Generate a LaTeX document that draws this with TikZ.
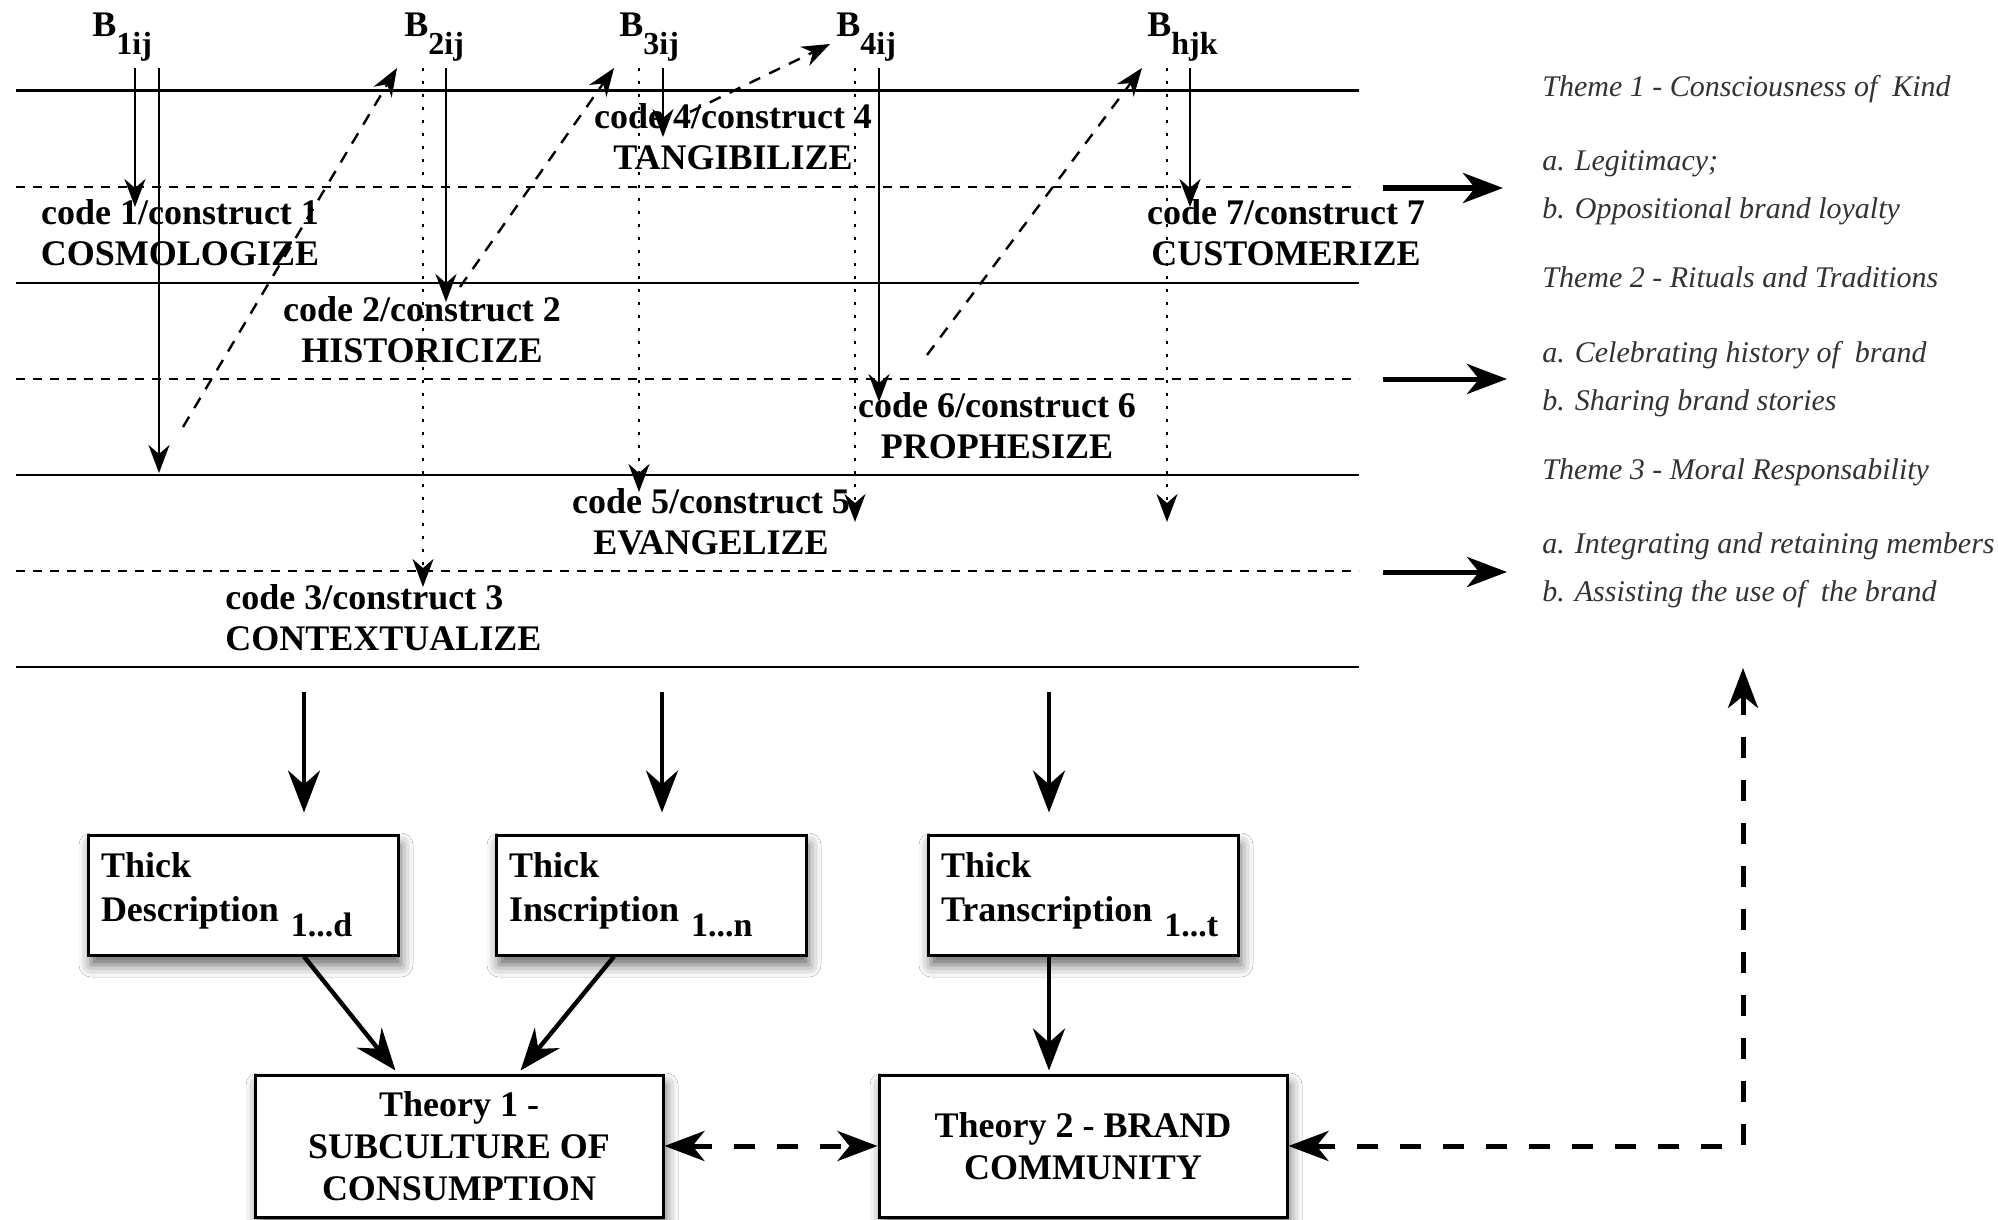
\documentclass[tikz,border=0pt]{standalone}
\usepackage{fontspec}
\setmainfont{Liberation Serif}
\usetikzlibrary{arrows.meta,calc,shadows.blur}

\tikzset{
  rule/.style={line width=1.4pt},
  dashrule/.style={line width=1.4pt, dash pattern=on 4.5pt off 4pt},
  thinhead/.style={-{Stealth[length=14pt,width=10.5pt,inset=4.5pt]}},
  thinarr/.style={line width=1.1pt, thinhead},
  dotarr/.style={line width=1.3pt, dash pattern=on 1.3pt off 5.2pt, thinhead},
  diagarr/.style={line width=1.2pt, dash pattern=on 6pt off 5pt, thinhead},
  bigarr/.style={line width=2.2pt, -{Stealth[length=21pt,width=16pt,inset=7pt]}},
  sidearr/.style={line width=2.5pt, -{Stealth[length=20pt,width=15pt,inset=6pt]}},
  dasharr/.style={line width=2.5pt, dash pattern=on 10.5pt off 11pt,
    {Stealth[length=20pt,width=15pt,inset=6pt]}-{Stealth[length=20pt,width=15pt,inset=6pt]}},
  codelab/.style={font=\fontsize{18}{20.5}\selectfont\bfseries, align=center, inner sep=0pt},
  blab/.style={font=\fontsize{18}{20}\selectfont\bfseries, inner sep=0pt, anchor=base west},
  theme/.style={font=\fontsize{15}{18}\selectfont\itshape, text=black!80, anchor=west,
    inner sep=0pt, text height=10.5pt, text depth=3.75pt},
  boxshadow/.style={blur shadow={shadow xshift=1.5pt, shadow yshift=-5pt,
    shadow blur radius=6pt, shadow opacity=60}},
  thickbox/.style={draw, line width=1.5pt, fill=white, minimum width=155pt, minimum height=60pt,
    text width=142pt, align=left, inner xsep=6.5pt,
    font=\fontsize{18}{22}\selectfont\bfseries, boxshadow},
  theorybox/.style={draw, line width=1.5pt, fill=white, minimum width=204pt, minimum height=71pt,
    align=center, font=\fontsize{18}{21}\selectfont\bfseries, boxshadow}
}
\newcommand{\bsub}[1]{\raisebox{-9pt}{\fontsize{16}{16}\selectfont #1}}
\newcommand{\tsub}[1]{\raisebox{-7.5pt}{\fontsize{17}{17}\selectfont #1}}

\begin{document}
\begin{tikzpicture}[x=0.5pt,y=-0.5pt]
\useasboundingbox (0,0) rectangle (1998,1220);
\fill[white] (0,0) rectangle (1998,1220);

% horizontal rules
\draw[rule] (16,90.5) -- (1359,90.5);
\draw[dashrule] (16,187) -- (1359,187);
\draw[rule] (16,283) -- (1359,283);
\draw[dashrule] (16,379) -- (1359,379);
\draw[rule] (16,475) -- (1359,475);
\draw[dashrule] (16,571) -- (1359,571);
\draw[rule] (16,667) -- (1359,667);

% B labels
\node[blab] (B1) at (92,37) {B\bsub{1ij}};
\node[blab] (B2) at (404,37) {B\bsub{2ij}};
\node[blab] (B3) at (619,37) {B\bsub{3ij}};
\node[blab] (B4) at (836,37) {B\bsub{4ij}};
\node[blab] (Bh) at (1147,37) {B\bsub{hjk}};

% code labels
\node[codelab] (c1) at (180,233) {code 1/construct 1\\COSMOLOGIZE};
\node[codelab] (c2) at (422,330) {code 2/construct 2\\HISTORICIZE};
\node[codelab, align=left, anchor=west] (c3) at (225,618) {code 3/construct 3\\CONTEXTUALIZE};
\node[codelab] (c4) at (733,137) {code 4/construct 4\\TANGIBILIZE};
\node[codelab] (c5) at (711,522) {code 5/construct 5\\EVANGELIZE};
\node[codelab] (c6) at (997,426) {code 6/construct 6\\PROPHESIZE};
\node[codelab] (c7) at (1286,233) {code 7/construct 7\\CUSTOMERIZE};

% themes
\node[theme] (th1) at (1542,90) {Theme 1 - Consciousness of\ \ Kind};
\node[theme] (th1a) at (1542,164) {a. Legitimacy;};
\node[theme] (th1b) at (1542,212) {b. Oppositional brand loyalty};
\node[theme] (th2) at (1542,281) {Theme 2 - Rituals and Traditions};
\node[theme] (th2a) at (1542,356) {a. Celebrating history of\ \ brand};
\node[theme] (th2b) at (1542,404) {b. Sharing brand stories};
\node[theme] (th3) at (1542,473) {Theme 3 - Moral Responsability};
\node[theme] (th3a) at (1542,547) {a. Integrating and retaining members};
\node[theme] (th3b) at (1542,595) {b. Assisting the use of\ \ the brand};

% vertical arrows from the B labels
\draw[thinarr] (135,68) coordinate (s1a) -- (135,207) coordinate (e1a);
\draw[thinarr] (159,68) coordinate (s1b) -- (159,473) coordinate (e1b);
\draw[dotarr] (423,68) coordinate (s2a) -- (423,587) coordinate (e2a);
\draw[thinarr] (446,68) coordinate (s2b) -- (446,302) coordinate (e2b);
\draw[dotarr] (639,68) coordinate (s3a) -- (639,492) coordinate (e3a);
\draw[thinarr] (663,68) coordinate (s3b) -- (663,137) coordinate (e3b);
\draw[dotarr] (855,68) coordinate (s4a) -- (855,522) coordinate (e4a);
\draw[thinarr] (879,68) coordinate (s4b) -- (879,402) coordinate (e4b);
\draw[dotarr] (1167,68) coordinate (sha) -- (1167,522) coordinate (eha);
\draw[thinarr] (1190,68) coordinate (shb) -- (1190,207) coordinate (ehb);

% diagonal dashed arrows
\draw[diagarr] (183,427) coordinate (d1s) -- (397,68) coordinate (d1e);
\draw[diagarr] (460,287) coordinate (d2s) -- (614,68) coordinate (d2e);
\draw[diagarr] (690,112) coordinate (d3s) -- (830,44) coordinate (d3e);
\draw[diagarr] (927,355) coordinate (d4s) -- (1142,68) coordinate (d4e);

% arrows to themes
\draw[sidearr] (1383,188) coordinate (r1s) -- (1503,188) coordinate (r1e);
\draw[sidearr] (1383,379) coordinate (r2s) -- (1507,379) coordinate (r2e);
\draw[sidearr] (1383,572) coordinate (r3s) -- (1507,572) coordinate (r3e);

% thick boxes
\node[thickbox] (b1) at (243,895) {Thick\\Description \tsub{1...d}};
\node[thickbox] (b2) at (651,895) {Thick\\Inscription \tsub{1...n}};
\node[thickbox] (b3) at (1083,895) {Thick\\Transcription \tsub{1...t}};

% theory boxes
\node[theorybox] (t1) at (459,1146) {Theory 1 -\\SUBCULTURE OF\\CONSUMPTION};
\node[theorybox] (t2) at (1083,1146) {Theory 2 - BRAND\\COMMUNITY};

% down arrows into boxes
\draw[bigarr] (304,692) coordinate (a1) -- ($(b1.north)+(61,-21)$);
\draw[bigarr] (662,692) coordinate (a2) -- ($(b2.north)+(11,-21)$);
\draw[bigarr] (1049,692) coordinate (a3) -- ($(b3.north)+(-34,-21)$);

% boxes to theories
\draw[bigarr] ($(b1.south)+(61,0)$) -- ($(t1.north west)+(142,-3)$);
\draw[bigarr] ($(b2.south)+(-37,0)$) -- ($(t1.north west)+(267,-3)$);
\draw[bigarr] ($(b3.south)+(-34,0)$) -- ($(t2.north)+(-34,-3)$);

% dashed relations
\draw[dasharr] (t1.east) -- (t2.west);
\coordinate (up) at (1743,668);
\draw[dasharr] (up) |- (t2.east);
\end{tikzpicture}
\end{document}
